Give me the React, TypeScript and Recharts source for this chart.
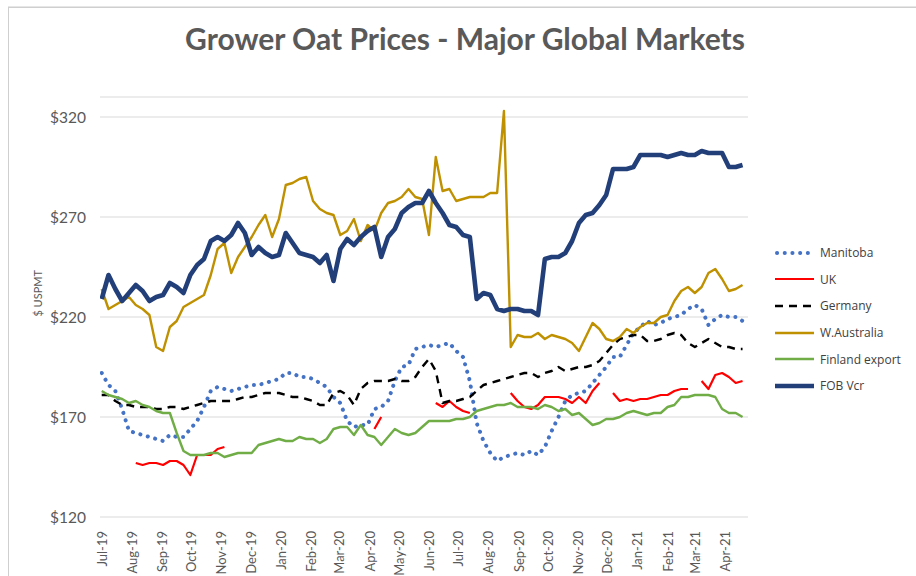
import { LineChart, Line, XAxis, YAxis, CartesianGrid } from "recharts";

// weekly observations, Jul-19 .. mid May-21
const manitoba = [
  192, 186, 183, 174, 163, 162, 161, 160, 159, 158, 161, 160, 160, 164, 168, 175, 183, 185, 184, 183,
  184, 185, 186, 186, 187, 188, 189, 192, 192, 190, 190, 189, 187, 185, 180, 177, 168, 165, 166, 166,
  174, 175, 178, 188, 195, 196, 204, 205, 206, 205, 206, 207, 203, 200, 188, 167, 158, 152, 148, 150,
  151, 152, 151, 153, 151, 155, 163, 170, 178, 181, 182, 183, 187, 191, 195, 200, 200, 206, 212, 215,
  218, 216, 217, 219, 220, 221, 224, 226, 224, 216, 219, 221, 220, 220, 218,
];
const uk = [
  null, null, null, null, null, 147, 146, 147, 147, 146, 148, 148, 146, 141, 151, 151, 151, 154, 155, null,
  null, null, null, null, null, null, null, null, null, null, null, null, null, null, null, null, null, null, null, null,
  164, 170, null, null, null, null, null, null, null, 177, 175, 178, 175, 173, 172, null, null, null, null, null,
  182, 178, 175, 174, 176, 180, 180, 180, 179, 177, 180, 177, 183, 187, null, 182, 178, 179, 178, 179,
  179, 180, 181, 181, 183, 184, 184, null, 188, 184, 191, 192, 190, 187, 188,
];
const germany = [
  181, 181, 178, 176, 176, 175, 175, 175, 174, 174, 175, 175, 174, 175, 176, 177, 178, 178, 178, 178,
  179, 180, 180, 181, 182, 182, 182, 181, 180, 180, 179, 178, 176, 176, 182, 183, 181, 176, 184, 187,
  188, 188, 188, 189, 188, 188, 190, 195, 199, 193, 177, 178, 178, 179, 180, 183, 186, 187, 188, 189,
  190, 191, 192, 192, 190, 192, 193, 195, 193, 194, 195, 195, 196, 198, 202, 206, 209, 210, 211, 211,
  208, 208, 209, 211, 212, 211, 207, 205, 207, 209, 207, 205, 205, 204, 204,
];
const wAustralia = [
  234, 224, 226, 228, 230, 226, 224, 221, 205, 203, 215, 218, 225, 227, 229, 231, 241, 254, 257, 242,
  250, 255, 260, 266, 271, 260, 269, 286, 287, 289, 290, 278, 274, 272, 271, 261, 263, 269, 258, 266,
  263, 272, 277, 278, 280, 284, 280, 279, 261, 300, 283, 284, 278, 279, 280, 280, 280, 282, 282, 323,
  205, 211, 210, 210, 212, 209, 211, 210, 209, 207, 203, 210, 217, 214, 209, 208, 210, 214, 212, 215,
  217, 217, 220, 221, 228, 233, 235, 232, 235, 242, 244, 239, 233, 234, 236,
];
const finland = [
  183, 181, 180, 179, 177, 178, 176, 175, 173, 172, 172, 162, 153, 151, 151, 151, 152, 152, 150, 151,
  152, 152, 152, 156, 157, 158, 159, 158, 158, 160, 159, 159, 157, 159, 164, 165, 165, 161, 166, 161,
  160, 156, 160, 164, 162, 161, 162, 165, 168, 168, 168, 168, 169, 169, 170, 173, 174, 175, 176, 176,
  177, 175, 175, 175, 174, 176, 175, 173, 174, 171, 172, 169, 166, 167, 169, 169, 170, 172, 173, 172,
  171, 172, 172, 175, 176, 180, 180, 181, 181, 181, 180, 174, 172, 172, 170,
];
const fobVcr = [
  229, 241, 234, 228, 232, 236, 233, 228, 230, 231, 237, 235, 232, 241, 246, 249, 258, 260, 258, 261,
  267, 262, 251, 255, 252, 250, 251, 262, 257, 252, 251, 250, 247, 251, 238, 254, 259, 256, 260, 263,
  265, 250, 260, 264, 272, 275, 277, 277, 283, 277, 272, 266, 265, 261, 260, 229, 232, 231, 224, 223,
  224, 224, 223, 223, 221, 249, 250, 250, 252, 258, 267, 271, 272, 276, 281, 294, 294, 294, 295, 301,
  301, 301, 301, 300, 301, 302, 301, 301, 303, 302, 302, 302, 295, 295, 296,
];

const monthLabels = [
  "Jul-19", "Aug-19", "Sep-19", "Oct-19", "Nov-19", "Dec-19", "Jan-20", "Feb-20", "Mar-20", "Apr-20", "May-20",
  "Jun-20", "Jul-20", "Aug-20", "Sep-20", "Oct-20", "Nov-20", "Dec-20", "Jan-21", "Feb-21", "Mar-21", "Apr-21",
];
// days from 1 Jul 2019 to the first of each month
const monthStartDays = [0, 31, 62, 92, 123, 153, 184, 215, 244, 275, 305, 336, 366, 397, 428, 458, 489, 519, 550, 581, 609, 640];
const yTicks = [120, 170, 220, 270, 320];

const series = [
  { key: "manitoba", name: "Manitoba", color: "#4472C4", width: 4, dash: "0.1 7.6", cap: "round" },
  { key: "uk", name: "UK", color: "#FF0000", width: 2.2, dash: undefined, cap: "butt" },
  { key: "germany", name: "Germany", color: "#000000", width: 2.4, dash: "8 6", cap: "butt" },
  { key: "wAustralia", name: "W.Australia", color: "#BF9000", width: 2.4, dash: undefined, cap: "butt" },
  { key: "finland", name: "Finland export", color: "#70AD47", width: 2.4, dash: undefined, cap: "butt" },
  { key: "fobVcr", name: "FOB Vcr", color: "#223F7A", width: 4.6, dash: undefined, cap: "butt" },
];

const data = manitoba.map((_, i) => ({
  week: i,
  manitoba: manitoba[i],
  uk: uk[i],
  germany: germany[i],
  wAustralia: wAustralia[i],
  finland: finland[i],
  fobVcr: fobVcr[i],
}));

const monthTicks = monthStartDays.map((d) => d / 7);
const font = "Lato, 'Open Sans', sans-serif";

const MonthTick = (props: any) => {
  const { x, y, payload } = props;
  const idx = monthTicks.findIndex((t) => Math.abs(t - payload.value) < 0.01);
  return (
    <text
      x={x}
      y={y}
      transform={`rotate(-90, ${x}, ${y})`}
      textAnchor="end"
      dominantBaseline="central"
      fontSize={13}
      fontFamily={font}
      fill="#595959"
    >
      {monthLabels[idx]}
    </text>
  );
};

const PriceTick = (props: any) => {
  const { y, payload } = props;
  return (
    <text x={86} y={y} textAnchor="end" dominantBaseline="central" fontSize={15.5} fontFamily={font} fill="#595959">
      {`$${payload.value}`}
    </text>
  );
};

export default function App() {
  return (
    <div style={{ position: "absolute", left: 0, top: 0, width: 916, height: 576, background: "#fff", overflow: "hidden" }}>
      <div
        style={{
          position: "absolute",
          left: 8,
          top: 7,
          width: 940,
          height: 600,
          border: "1px solid #CFCFCF",
          boxShadow: "0 -1px 0 #E6E6E6",
        }}
      />
      <div
        style={{
          position: "absolute",
          left: 0,
          width: 930,
          top: 20,
          textAlign: "center",
          fontFamily: font,
          fontWeight: 700,
          fontSize: 30,
          color: "#595959",
        }}
      >
        Grower Oat Prices - Major Global Markets
      </div>
      <div style={{ position: "absolute", left: 0, top: 0 }}>
        <LineChart width={916} height={576} data={data} margin={{ top: 97, right: 168, bottom: 9, left: 20 }}>
          <CartesianGrid vertical={false} stroke="#D9D9D9" strokeWidth={1} />
          <XAxis
            dataKey="week"
            type="number"
            domain={[-0.25, 94.8]}
            ticks={monthTicks}
            interval={0}
            tick={<MonthTick />}
            tickLine={false}
            axisLine={false}
            height={50}
            tickMargin={8}
            allowDataOverflow
          />
          <YAxis
            type="number"
            domain={[120, 330]}
            ticks={yTicks}
            interval={0}
            tick={<PriceTick />}
            tickLine={false}
            axisLine={false}
            width={80}
            allowDataOverflow
            label={{
              value: "$ USPMT",
              angle: -90,
              position: "left",
              offset: -18,
              fontSize: 11,
              fontFamily: font,
              fill: "#595959",
              dy: -37,
            }}
          />
          {series.map((s) => (
            <Line
              key={s.key}
              type="linear"
              dataKey={s.key}
              name={s.name}
              stroke={s.color}
              strokeWidth={s.width}
              strokeDasharray={s.dash}
              strokeLinecap={s.cap as any}
              strokeLinejoin="round"
              dot={false}
              activeDot={false}
              connectNulls={false}
              isAnimationActive={false}
            />
          ))}
        </LineChart>
      </div>
      <div style={{ position: "absolute", left: 774, top: 239.5, fontFamily: "'Open Sans', sans-serif", fontSize: 12, color: "#404040" }}>
        {series.map((s) => (
          <div key={s.key} style={{ display: "flex", alignItems: "center", height: 26.6 }}>
            <svg width={42} height={10} style={{ marginRight: 4 }}>
              <line
                x1={s.cap === "round" ? 3 : 1}
                y1={5}
                x2={40}
                y2={5}
                stroke={s.color}
                strokeWidth={s.width}
                strokeDasharray={s.dash}
                strokeLinecap={s.cap as any}
              />
            </svg>
            <span>{s.name}</span>
          </div>
        ))}
      </div>
    </div>
  );
}
